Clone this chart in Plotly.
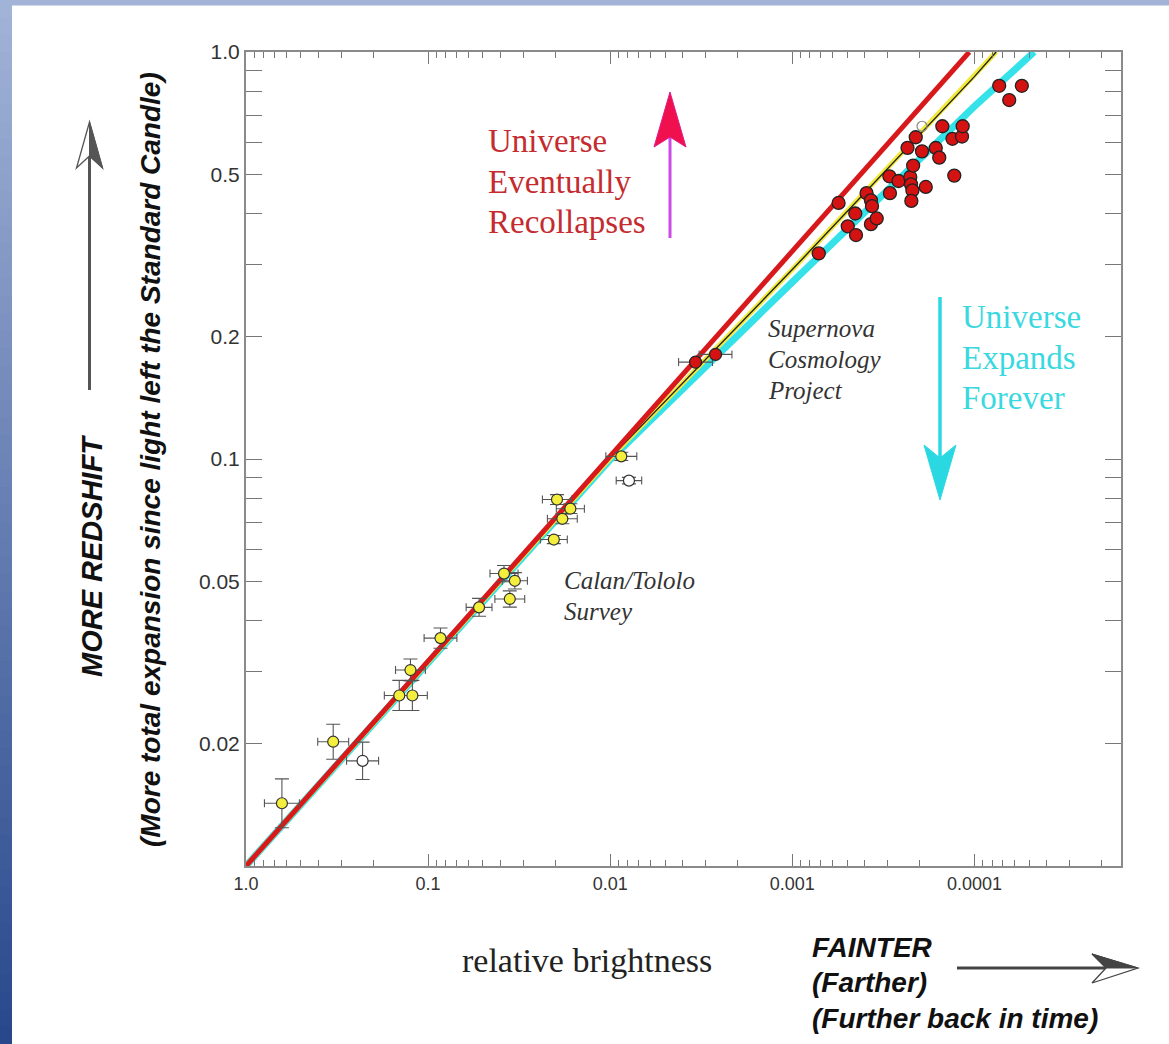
import numpy as np
import plotly.graph_objects as go

# ---------------- data ----------------
# model curves (relative brightness, redshift)
red_x = [1.0, 0.1, 0.01, 0.001, 1.067e-4]
red_y = [0.01, 0.0319, 0.1016, 0.324, 1.0]
yel_x = [1.0, 0.1, 0.01, 0.001, 1.0e-4, 7.6e-5]
yel_y = [0.01, 0.0318, 0.1005, 0.292, 0.87, 1.0]
cyan_x = [1.0, 0.1, 0.01, 0.001, 1.0e-4, 4.7e-5]
cyan_y = [0.01, 0.0317, 0.0996, 0.272, 0.735, 1.0]

# Calan/Tololo supernovae (yellow)
ct_x = [0.635, 0.332, 0.144, 0.122, 0.125, 0.0855, 0.0525, 0.0383, 0.0334,
        0.0356, 0.0204, 0.0196, 0.01655, 0.01832, 0.00869]
ct_y = [0.01426, 0.0202, 0.02624, 0.02624, 0.0303, 0.0363, 0.0432, 0.0523,
        0.0502, 0.0453, 0.0634, 0.0795, 0.0755, 0.0713, 0.1015]
ct_xerr_dex = [0.096, 0.085, 0.082, 0.082, 0.082, 0.09, 0.071, 0.077, 0.069,
               0.082, 0.074, 0.08, 0.077, 0.082, 0.085]
ct_yerr_dex = [0.060, 0.043, 0.037, 0.037, 0.027, 0.025, 0.022, 0.02, 0.02,
               0.02, 0.01, 0.012, 0.012, 0.012, 0.01]

# open (white) points
op_x = [0.229, 0.00789]
op_y = [0.01813, 0.0885]
op_xerr_dex = [0.088, 0.07]
op_yerr_dex = [0.046, 0.008]

# Supernova Cosmology Project, low-z pair with error bars
scp1_x = [0.0034, 0.00264]
scp1_y = [0.173, 0.1807]
scp1_xerr_dex = [0.093, 0.09]

# Supernova Cosmology Project, high-z cluster
scp_x = [7.16e-4, 5.57e-4, 4.51e-4, 4.96e-4, 4.47e-4, 3.70e-4, 3.44e-4, 3.91e-4,
         3.70e-4, 3.65e-4, 2.93e-4, 2.91e-4, 2.61e-4, 2.25e-4, 2.23e-4, 2.19e-4,
         2.22e-4, 1.85e-4, 2.17e-4, 2.33e-4, 1.94e-4, 2.10e-4, 1.63e-4, 1.56e-4,
         1.50e-4, 1.32e-4, 1.17e-4, 1.16e-4, 1.29e-4, 7.31e-5, 5.49e-5, 6.44e-5]
scp_y = [0.320, 0.4257, 0.401, 0.373, 0.355, 0.3776, 0.390, 0.450,
         0.432, 0.418, 0.495, 0.450, 0.482, 0.493, 0.473, 0.457,
         0.4306, 0.466, 0.526, 0.5814, 0.570, 0.6174, 0.581, 0.550,
         0.657, 0.612, 0.620, 0.657, 0.497, 0.826, 0.826, 0.762]
scp_open_x = [1.94e-4]
scp_open_y = [0.657]

# axis ticks
x_tickvals = [1.0, 0.1, 0.01, 0.001, 0.0001]
x_ticktext = ["1.0", "0.1", "0.01", "0.001", "0.0001"]
y_labelled = {1.0: "1.0", 0.5: "0.5", 0.2: "0.2", 0.1: "0.1", 0.05: "0.05", 0.02: "0.02"}

# ---------------- layout geometry ----------------
W, H = 1169, 1044
L, R, T, B = 246, 1121, 52, 866
PW, PH = R - L, B - T


def px(x):
    return (x - L) / PW


def py(y):
    return (B - y) / PH


def errs(vals, dex):
    v = np.array(vals)
    d = np.array(dex)
    return (v * (10 ** d - 1)).tolist(), (v * (1 - 10 ** (-d))).tolist()


fig = go.Figure()

# model curves
fig.add_trace(go.Scatter(x=cyan_x, y=cyan_y, mode="lines",
                         line=dict(color="#36e2ea", width=7), hoverinfo="skip"))
fig.add_trace(go.Scatter(x=yel_x, y=yel_y, mode="lines",
                         line=dict(color="#f2ea3a", width=5), hoverinfo="skip"))
fig.add_trace(go.Scatter(x=yel_x, y=yel_y, mode="lines",
                         line=dict(color="#222222", width=1.4), hoverinfo="skip"))
fig.add_trace(go.Scatter(x=red_x, y=red_y, mode="lines",
                         line=dict(color="#d8191c", width=5), hoverinfo="skip"))

ebar = dict(color="#555555", thickness=1.1)

# Calan/Tololo
xp, xm = errs(ct_x, ct_xerr_dex)
yp, ym = errs(ct_y, ct_yerr_dex)
fig.add_trace(go.Scatter(
    x=ct_x, y=ct_y, mode="markers",
    marker=dict(size=11, color="#f4ee3c", line=dict(color="#333333", width=1.2)),
    error_x=dict(type="data", symmetric=False, array=xp, arrayminus=xm, width=4, **ebar),
    error_y=dict(type="data", symmetric=False, array=yp, arrayminus=ym, width=7, **ebar)))

xp, xm = errs(op_x, op_xerr_dex)
yp, ym = errs(op_y, op_yerr_dex)
fig.add_trace(go.Scatter(
    x=op_x, y=op_y, mode="markers",
    marker=dict(size=11, color="#ffffff", line=dict(color="#333333", width=1.2)),
    error_x=dict(type="data", symmetric=False, array=xp, arrayminus=xm, width=4, **ebar),
    error_y=dict(type="data", symmetric=False, array=yp, arrayminus=ym, width=7, **ebar)))

# SCP
xp, xm = errs(scp1_x, scp1_xerr_dex)
fig.add_trace(go.Scatter(
    x=scp1_x, y=scp1_y, mode="markers",
    marker=dict(size=12, color="#d41212", line=dict(color="#222222", width=1.2)),
    error_x=dict(type="data", symmetric=False, array=xp, arrayminus=xm, width=4, **ebar)))
fig.add_trace(go.Scatter(
    x=scp_x, y=scp_y, mode="markers",
    marker=dict(size=13, color="#d41212", line=dict(color="#222222", width=1.3))))
fig.add_trace(go.Scatter(
    x=scp_open_x, y=scp_open_y, mode="markers",
    marker=dict(size=10, color="rgba(255,255,255,0)", line=dict(color="#888888", width=1.2))))

# ---------------- axes ----------------
minor_x = [m * 10.0 ** e for e in range(-5, 0) for m in range(2, 10)]
minor_x = [v for v in minor_x if v >= 1.5e-5]
fig.update_xaxes(
    type="log", range=[0, np.log10(1.567e-5)],
    tickvals=x_tickvals, ticktext=x_ticktext,
    ticks="inside", ticklen=12, tickwidth=1.4, tickcolor="#777777",
    minor=dict(ticks="inside", ticklen=6, tickwidth=1.2, tickcolor="#777777",
               tickvals=minor_x, showgrid=False),
    showline=True, linecolor="#8a8a8a", linewidth=2, mirror="ticks",
    showgrid=False, zeroline=False,
    tickfont=dict(family="Liberation Sans, Arial, sans-serif", size=18, color="#333333"),
)

y_tickvals = [m * 10.0 ** e for e in (-2, -1) for m in range(1, 10)] + [1.0]
y_ticktext = [y_labelled.get(round(v, 6), "") for v in y_tickvals]
fig.update_yaxes(
    type="log", range=[-2, 0],
    tickvals=y_tickvals, ticktext=y_ticktext,
    ticks="inside", ticklen=16, tickwidth=1.4, tickcolor="#777777",
    showline=True, linecolor="#8a8a8a", linewidth=2, mirror="ticks",
    showgrid=False, zeroline=False,
    tickfont=dict(family="Liberation Sans, Arial, sans-serif", size=21, color="#333333"),
)

shapes = []
# blue frame: top strip and gradient left strip
shapes.append(dict(type="rect", xref="paper", yref="paper", x0=px(0), x1=px(W),
                   y0=py(0), y1=py(5.5), fillcolor="#a2b3d7", line=dict(width=0)))
N = 60
c_top = np.array([163, 180, 216])
c_bot = np.array([40, 72, 140])
for i in range(N):
    t = (i + 0.5) / N
    c = (c_top * (1 - t) + c_bot * t).astype(int)
    shapes.append(dict(type="rect", xref="paper", yref="paper",
                       x0=px(0), x1=px(12), y0=py(i * H / N), y1=py((i + 1) * H / N + 1),
                       fillcolor="rgb(%d,%d,%d)" % tuple(c), line=dict(width=0)))


def path(points, close=True):
    s = "M " + " L ".join("%f,%f" % (px(a), py(b)) for a, b in points)
    return s + (" Z" if close else "")


# magenta "recollapse" arrow
shapes.append(dict(type="line", xref="paper", yref="paper", x0=px(670), x1=px(670),
                   y0=py(238), y1=py(136), line=dict(color="#cc4ae6", width=3)))
shapes.append(dict(type="path", xref="paper", yref="paper",
                   path=path([(670, 92), (686, 147), (670, 137), (654, 147)]),
                   fillcolor="#f0104e", line=dict(color="#e01a8a", width=1)))
# cyan "expands forever" arrow
shapes.append(dict(type="line", xref="paper", yref="paper", x0=px(940), x1=px(940),
                   y0=py(297), y1=py(458), line=dict(color="#2ad8e2", width=3.5)))
shapes.append(dict(type="path", xref="paper", yref="paper",
                   path=path([(940, 500), (924, 445), (940, 458), (956, 445)]),
                   fillcolor="#2ad8e2", line=dict(color="#2ad8e2", width=1)))
# left vertical arrow (MORE REDSHIFT)
shapes.append(dict(type="line", xref="paper", yref="paper", x0=px(89.5), x1=px(89.5),
                   y0=py(390), y1=py(156), line=dict(color="#555555", width=3)))
shapes.append(dict(type="path", xref="paper", yref="paper",
                   path=path([(89.5, 122), (102.5, 168), (89.5, 156), (76.5, 168)]),
                   fillcolor="#ffffff", line=dict(color="#555555", width=1.3)))
shapes.append(dict(type="path", xref="paper", yref="paper",
                   path=path([(89.5, 122), (102.5, 168), (89.5, 156)]),
                   fillcolor="#555555", line=dict(color="#555555", width=1)))
# bottom horizontal arrow (FAINTER)
shapes.append(dict(type="line", xref="paper", yref="paper", x0=px(957), x1=px(1106),
                   y0=py(968), y1=py(968), line=dict(color="#444444", width=3)))
shapes.append(dict(type="path", xref="paper", yref="paper",
                   path=path([(1138, 968), (1092, 954), (1106, 968), (1092, 983)]),
                   fillcolor="#ffffff", line=dict(color="#444444", width=1.3)))
shapes.append(dict(type="path", xref="paper", yref="paper",
                   path=path([(1138, 968), (1092, 954), (1106, 968)]),
                   fillcolor="#444444", line=dict(color="#444444", width=1)))

annotations = []


def text(x, y, s, size, color, family, xanchor="left", angle=0):
    annotations.append(dict(x=px(x), y=py(y), xref="paper", yref="paper", text=s,
                            showarrow=False, xanchor=xanchor, yanchor="middle",
                            textangle=angle,
                            font=dict(size=size, color=color, family=family)))


serif = "Liberation Serif, Times New Roman, serif"
sans = "Liberation Sans, Arial, sans-serif"

for s, yy in [("Universe", 141), ("Eventually", 182), ("Recollapses", 222)]:
    text(486, yy, s, 33, "#c42c30", serif)
for s, yy in [("Universe", 317), ("Expands", 358), ("Forever", 398)]:
    text(960, yy, s, 33, "#3ad8e0", serif)
for s, yy in [("<i>Supernova</i>", 328), ("<i>Cosmology</i>", 359), ("<i>Project</i>", 390)]:
    text(766, yy, s, 25, "#333333", serif)
for s, yy in [("<i>Calan/Tololo</i>", 580), ("<i>Survey</i>", 612)]:
    text(562, yy, s, 25, "#333333", serif)

text(587, 960, "relative brightness", 34, "#222222", serif, xanchor="center")
for s, yy in [("<b><i>FAINTER</i></b>", 947), ("<b><i>(Farther)</i></b>", 983),
              ("<b><i>(Further back in time)</i></b>", 1019)]:
    text(810, yy, s, 28, "#111111", sans)

text(92, 556, "<b><i>MORE REDSHIFT</i></b>", 29, "#111111", sans, xanchor="center", angle=-90)
text(151, 460, "<b><i>(More total expansion since light left the Standard Candle)</i></b>",
     28, "#111111", sans, xanchor="center", angle=-90)

fig.update_layout(
    width=W, height=H,
    margin=dict(l=L, r=W - R, t=T, b=H - B, pad=0),
    paper_bgcolor="white", plot_bgcolor="white",
    showlegend=False,
    shapes=shapes, annotations=annotations,
)

fig.write_html("out.html", config={"displayModeBar": False},
               post_script="document.body.style.margin='0px';document.body.style.overflow='hidden';")
